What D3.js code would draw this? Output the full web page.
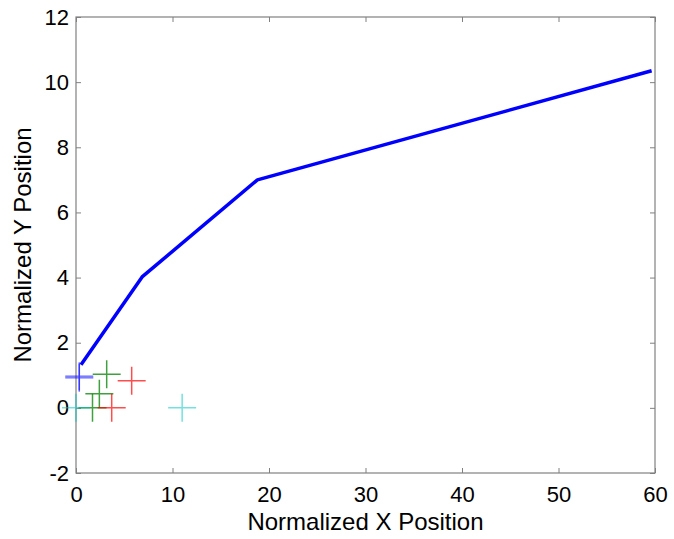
<!DOCTYPE html>
<html>
<head>
<meta charset="utf-8">
<script src="https://cdn.jsdelivr.net/npm/d3@7"></script>
<style>
  body { margin: 0; background: #fff; overflow: hidden; }
  svg { display: block; }
  text { font-family: "Liberation Sans", Arial, sans-serif; }
</style>
</head>
<body>
<div id="chart"></div>
<script>
// path of the tracked object
const pathX = [0.52, 6.85, 18.8, 59.65];
const pathY = [1.32, 4.02, 7.0, 10.35];

// detected positions (plus markers)
const markX = [0.34, 0.34, 0.34, 3.18, 5.77, 2.42, 1.71, 3.70, 0.0, 11.0];
const markY = [0.92, 0.95, 0.98, 1.03, 0.83, 0.43, 0.0, 0.0, 0.0, 0.0];
const markGroup = ["blue", "blue", "blue", "green", "red", "green", "green", "red", "cyan", "cyan"];

const xTicks = [0, 10, 20, 30, 40, 50, 60];
const yTicks = [-2, 0, 2, 4, 6, 8, 10, 12];

const colors = { blue: "#0000ff", green: "#008000", red: "#ff0000", cyan: "#00c8c8" };
const alphas = { blue: 0.4, green: 0.75, red: 0.7, cyan: 0.55 };

const outerWidth = 674;
const outerHeight = 539;
const margin = { top: 17, right: 19, bottom: 66, left: 76 };
const innerWidth = outerWidth - margin.left - margin.right;
const innerHeight = outerHeight - margin.top - margin.bottom;
const tickLen = 5;
const markSize = 14;

const svg = d3.select("#chart").append("svg")
  .attr("width", outerWidth)
  .attr("height", outerHeight);

const g = svg.append("g")
  .attr("transform", "translate(" + margin.left + "," + margin.top + ")");

const xScale = d3.scaleLinear().domain([0, 60]).range([0, innerWidth]);
const yScale = d3.scaleLinear().domain([-2, 12]).range([innerHeight, 0]);

const axisColor = "#808080";
const plainFmt = function(d) { return String(d); };

function styleAxis(sel) {
  sel.select(".domain").remove();
  sel.selectAll(".tick line").attr("stroke", axisColor);
  sel.selectAll(".tick text").attr("fill", "#000").style("font-size", "22px");
}

// top/right ticks only, no labels
function tickOnly(sel) {
  sel.select(".domain").remove();
  sel.selectAll(".tick line").attr("stroke", axisColor);
  sel.selectAll(".tick text").remove();
}

// bottom axis, ticks pointing in
g.append("g")
  .attr("transform", "translate(0," + innerHeight + ")")
  .call(d3.axisBottom(xScale).tickValues(xTicks).tickFormat(plainFmt)
    .tickSizeInner(-tickLen).tickSizeOuter(0).tickPadding(13))
  .call(styleAxis);

g.append("g")
  .call(d3.axisTop(xScale).tickValues(xTicks).tickSizeInner(-tickLen).tickSizeOuter(0))
  .call(tickOnly);

g.append("g")
  .call(d3.axisLeft(yScale).tickValues(yTicks).tickFormat(plainFmt)
    .tickSizeInner(-tickLen).tickSizeOuter(0).tickPadding(7))
  .call(styleAxis);

g.append("g")
  .attr("transform", "translate(" + innerWidth + ",0)")
  .call(d3.axisRight(yScale).tickValues(yTicks).tickSizeInner(-tickLen).tickSizeOuter(0))
  .call(tickOnly);

g.append("rect")
  .attr("width", innerWidth)
  .attr("height", innerHeight)
  .attr("fill", "none")
  .attr("stroke", axisColor)
  .attr("stroke-width", 1.2);

// markers
const marks = markX.map(function(x, i) {
  return { x: x, y: markY[i], group: markGroup[i] };
});

g.selectAll(".mark")
  .data(marks)
  .enter()
  .append("path")
  .attr("class", "mark")
  .attr("d", function(d) {
    const cx = xScale(d.x), cy = yScale(d.y);
    return "M" + (cx - markSize) + "," + cy + "H" + (cx + markSize) +
      "M" + cx + "," + (cy - markSize) + "V" + (cy + markSize);
  })
  .attr("fill", "none")
  .attr("stroke", function(d) { return colors[d.group]; })
  .attr("stroke-opacity", function(d) { return alphas[d.group]; })
  .attr("stroke-width", 1.5);

// path line
const lineGenerator = d3.line()
  .x(function(d) { return xScale(d[0]); })
  .y(function(d) { return yScale(d[1]); });

g.append("path")
  .attr("d", lineGenerator(pathX.map(function(x, i) { return [x, pathY[i]]; })))
  .attr("fill", "none")
  .attr("stroke", "#0000ff")
  .attr("stroke-width", 3.5)
  .attr("stroke-linejoin", "round");

// axis labels
svg.append("text")
  .attr("x", margin.left + innerWidth / 2)
  .attr("y", 530)
  .attr("text-anchor", "middle")
  .style("font-size", "24px")
  .text("Normalized X Position");

svg.append("text")
  .attr("transform", "translate(31," + (margin.top + innerHeight / 2) + ") rotate(-90)")
  .attr("text-anchor", "middle")
  .style("font-size", "24px")
  .text("Normalized Y Position");
</script>
</body>
</html>
